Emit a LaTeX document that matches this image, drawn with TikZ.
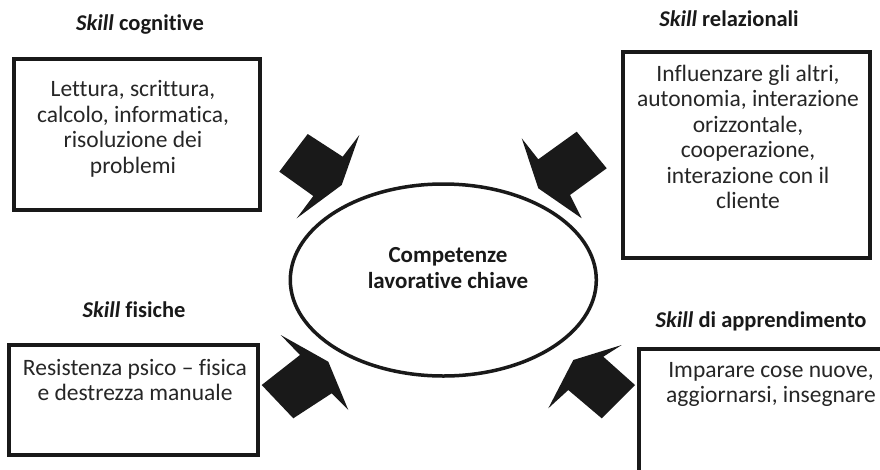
\documentclass[tikz,border=0pt]{standalone}
\usepackage{fontspec}
\setmainfont{Carlito}[Ligatures=NoCommon]
\begin{document}
\begin{tikzpicture}[x=1pt,y=-1pt,
  box/.style={draw=black!90,line width=4pt,rectangle,inner sep=0pt},
  boxtext/.style={align=center,font=\fontsize{23.5}{25.5}\selectfont,inner sep=0pt,text=black!85},
  title/.style={font=\fontsize{22.5}{25}\selectfont\bfseries,inner sep=0pt,text=black!90},
  arrowshape/.style={fill=black!90,draw=none}]
\useasboundingbox (0,0) rectangle (880,469);
\clip (0,0) rectangle (880,469);
% boxes
\draw[box] (13.7,59.3) rectangle (259.7,209.7);
\node[inner sep=0pt] (bTL) at (136.7,134.5) {};
\draw[box] (622.7,52) rectangle (869.7,258);
\node[inner sep=0pt] (bTR) at (746,155) {};
\draw[box] (9.3,345.3) rectangle (258,454.7);
\node[inner sep=0pt] (bBL) at (133.6,400) {};
\draw[box] (639.3,348.7) rectangle (900,500);
\node[inner sep=0pt] (bBR) at (770,420) {};
% titles
\node[title] (tTL) at (140,25) {\textit{Skill} cognitive};
\node[title] (tTR) at (729,18.3) {\textit{Skill} relazionali};
\node[title] (tBL) at (134,310) {\textit{Skill} fisiche};
\node[title] (tBR) at (761,321.7) {\textit{Skill} di apprendimento};
% box texts
\node[boxtext] (xTL) at (133,129) {Lettura, scrittura,\\calcolo, informatica,\\risoluzione dei\\problemi};
\node[boxtext] (xTR) at (748,137) {Influenzare gli altri,\\autonomia, interazione\\orizzontale,\\cooperazione,\\interazione con il\\cliente};
\node[boxtext] (xBL) at (135,380) {Resistenza psico -- fisica\\e destrezza manuale};
\node[boxtext] (xBR) at (771,384.5) {Imparare cose nuove,\\aggiornarsi, insegnare};
% ellipse
\draw[line width=3.5pt,draw=black!90] (443.3,280) ellipse [x radius=153, y radius=96];
\node[inner sep=0pt] (ell) at (443.3,280) {};
\node[align=center,font=\fontsize{23}{26.7}\selectfont\bfseries,inner sep=0pt,text=black!90] (center) at (448,268) {Competenze\\lavorative chiave};
% arrows
\fill[arrowshape] (359.3,135) -- (342.7,156.7) -- (307.7,134) -- (279.3,171.7) -- (313.3,196) -- (296.7,218.3) -- (341.7,185) -- cycle;
\fill[arrowshape] (521.7,138.3) -- (538.3,159.3) -- (576.7,131.7) -- (606.7,168.3) -- (570,195) -- (581.7,218.3) -- (538.3,188.3) -- cycle;
\fill[arrowshape] (280.7,335) -- (328.3,361.7) -- (348.3,410) -- (331.7,393.3) -- (293.3,418.3) -- (261.7,385) -- (300,355) -- cycle;
\fill[arrowshape] (621.7,345) -- (603.3,356.7) -- (635,385) -- (601.7,418.3) -- (568.3,390) -- (548.3,408.3) -- (573.3,360) -- cycle;
\end{tikzpicture}
\end{document}
